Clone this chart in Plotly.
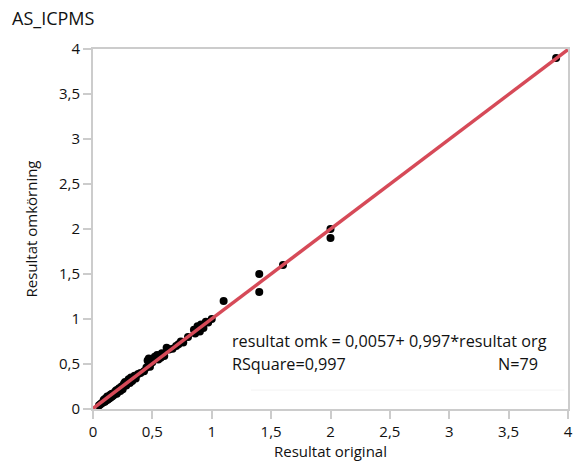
import plotly.graph_objects as go

x_orig = [0.05, 0.07, 0.08, 0.09, 0.10, 0.10, 0.11, 0.12, 0.12, 0.13,
          0.14, 0.15, 0.15, 0.16, 0.17, 0.18, 0.19, 0.20, 0.20, 0.21,
          0.22, 0.23, 0.24, 0.25, 0.26, 0.27, 0.28, 0.30, 0.31, 0.32,
          0.33, 0.35, 0.36, 0.38, 0.40, 0.45, 0.46, 0.47, 0.47, 0.48,
          0.50, 0.52, 0.54, 0.55, 0.57, 0.58, 0.60, 0.62, 0.64, 0.67,
          0.70, 0.72, 0.74, 0.76, 0.85, 0.86, 0.88, 0.90, 0.91, 0.93,
          0.95, 0.97, 1.00, 1.10, 1.40, 1.40, 1.60, 2.00, 2.00, 3.90,
          0.06, 0.09, 0.11, 0.13, 0.14, 0.16, 0.18, 0.43, 0.80]
y_omk = [0.04, 0.06, 0.07, 0.10, 0.08, 0.11, 0.12, 0.10, 0.14, 0.13,
         0.15, 0.13, 0.16, 0.17, 0.15, 0.18, 0.20, 0.17, 0.21, 0.19,
         0.23, 0.20, 0.25, 0.22, 0.28, 0.30, 0.26, 0.33, 0.29, 0.35,
         0.31, 0.37, 0.34, 0.39, 0.40, 0.46, 0.54, 0.56, 0.49, 0.47,
         0.52, 0.58, 0.60, 0.55, 0.57, 0.62, 0.59, 0.68, 0.66, 0.67,
         0.70, 0.72, 0.75, 0.74, 0.88, 0.84, 0.92, 0.86, 0.94, 0.90,
         0.97, 0.96, 1.00, 1.20, 1.50, 1.30, 1.60, 2.00, 1.90, 3.90,
         0.05, 0.08, 0.10, 0.11, 0.12, 0.14, 0.16, 0.42, 0.80]

intercept = 0.0057
slope = 0.997
fit_x = [0, 4]
fit_y = [intercept + slope * v for v in fit_x]

tick_vals = [0, 0.5, 1, 1.5, 2, 2.5, 3, 3.5, 4]

FONT = "Open Sans"
fig = go.Figure()
fig.add_trace(go.Scatter(x=x_orig, y=y_omk, mode="markers",
                         marker=dict(color="black", size=8), showlegend=False,
                         cliponaxis=False))
fig.add_trace(go.Scatter(x=fit_x, y=fit_y, mode="lines",
                         line=dict(color="#d64a58", width=3.5), showlegend=False))

axis_common = dict(range=[0, 4], tickvals=tick_vals, showgrid=False, zeroline=False,
                   showline=True, linecolor="#cccccc", linewidth=2, mirror=True,
                   ticks="outside", ticklen=8, tickcolor="#cccccc", tickwidth=2,
                   tickfont=dict(family=FONT, size=15, color="#111"),
                   title_font=dict(family=FONT, size=15, color="#111"))
fig.update_xaxes(title_text="Resultat original", title_standoff=5, **axis_common)
fig.update_yaxes(title_text="Resultat omkörning", title_standoff=18, **axis_common)

fig.add_shape(type="line", xref="x", yref="y", x0=1.33, x1=3.97, y0=0.21, y1=0.21,
              line=dict(color="#f3f3f3", width=1))

ann_font = dict(family=FONT, size=16.2, color="#111")
fig.add_annotation(x=(232 - 93) / 120, y=(409 - 341) / 90, xref="x", yref="y",
                   xanchor="left", yanchor="middle",
                   text="resultat omk = 0,0057+ 0,997*resultat org", showarrow=False,
                   font=ann_font, borderpad=0)
fig.add_annotation(x=(232 - 93) / 120, y=(409 - 364) / 90, xref="x", yref="y",
                   xanchor="left", yanchor="middle",
                   text="RSquare=0,997", showarrow=False, font=ann_font, borderpad=0)
fig.add_annotation(x=(544 - 93) / 120, y=(409 - 364) / 90, xref="x", yref="y",
                   xanchor="right", yanchor="middle",
                   text="N=79", showarrow=False, font=ann_font, borderpad=0)

fig.update_layout(
    width=580, height=468,
    margin=dict(l=93, r=7, t=49, b=59),
    paper_bgcolor="white", plot_bgcolor="white",
    separators=", ",
    title=dict(text="AS_ICPMS", x=12 / 580, xanchor="left", y=1 - 19 / 468, yanchor="middle",
               font=dict(family=FONT, size=18, color="#111")),
)

fig.write_html("out.html")
